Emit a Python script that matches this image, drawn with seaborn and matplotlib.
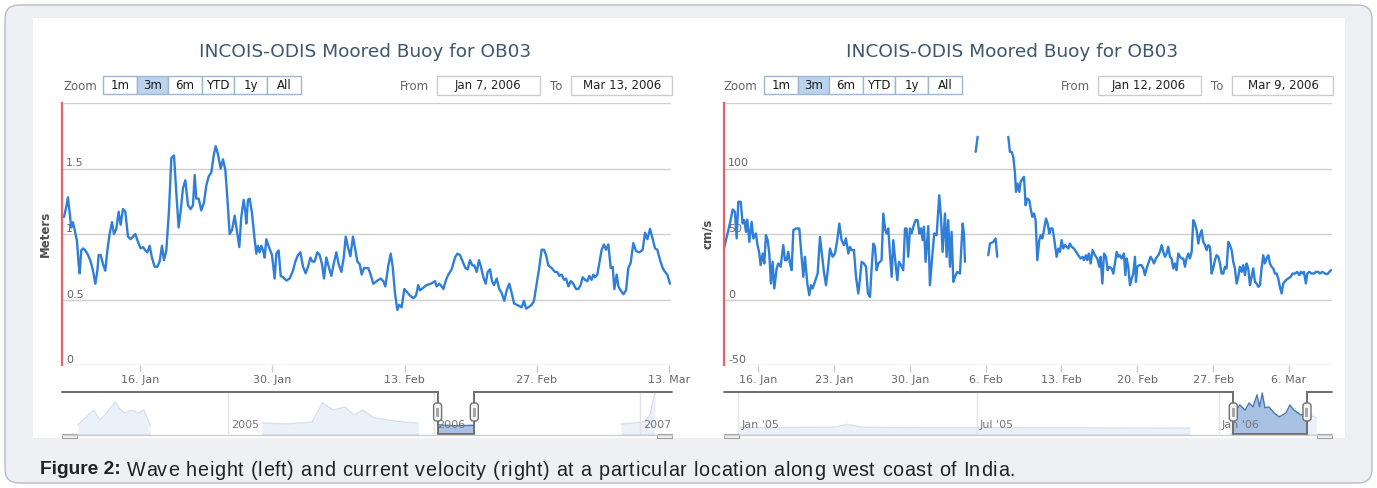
import numpy as np
import pandas as pd
import matplotlib
matplotlib.use("Agg")
import matplotlib.pyplot as plt
import matplotlib.dates as mdates
import seaborn as sns
from matplotlib.patches import Rectangle, FancyBboxPatch
from matplotlib.transforms import ScaledTranslation

# ---------------------------------------------------------------- data
chart_title = "INCOIS-ODIS Moored Buoy for OB03"
zoom_buttons = ["1m", "3m", "6m", "YTD", "1y", "All"]
selected_button = "3m"
caption_bold = "Figure 2:"
caption_text = " Wave height (left) and current velocity (right) at a particular location along west coast of India."

# wave height (m), days after 2006-01-07 00:00
wave_start = "2006-01-07"
wave_day = [0.96, 1.21, 1.38, 1.56, 1.73, 1.91, 2.09, 2.33, 2.51, 2.62,
            2.79, 2.97, 3.22, 3.50, 3.78, 4.03, 4.28, 4.49, 4.63, 4.84,
            5.09, 5.33, 5.55, 5.79, 6.04, 6.25, 6.50, 6.74, 6.95, 7.20,
            7.45, 7.73, 8.01, 8.26, 8.51, 8.79, 9.07, 9.32, 9.57, 9.78,
            10.02, 10.27, 10.55, 10.84, 11.08, 11.33, 11.54, 11.79, 12.07, 12.32,
            12.60, 12.85, 13.09, 13.30, 13.55, 13.80, 14.08, 14.36, 14.61, 14.79,
            14.96, 15.21, 15.49, 15.77, 16.02, 16.27, 16.55, 16.80, 17.01, 17.25,
            17.54, 17.78, 18.03, 18.24, 18.49, 18.74, 19.02, 19.26, 19.51, 19.72,
            19.97, 20.15, 20.25, 20.43, 20.61, 20.85, 21.13, 21.31, 21.49, 21.66,
            21.84, 22.02, 22.19, 22.37, 22.65, 22.97, 23.25, 23.43, 23.67, 23.89,
            24.13, 24.49, 24.84, 25.19, 25.44, 25.72, 25.97, 26.25, 26.53, 26.78,
            27.03, 27.24, 27.48, 27.77, 28.01, 28.26, 28.47, 28.72, 28.97, 29.25,
            29.49, 29.78, 30.02, 30.31, 30.56, 30.77, 31.01, 31.26, 31.54, 31.79,
            32.00, 32.25,
            32.46, 32.70, 33.16, 33.41, 33.69, 34.04, 34.47, 34.75, 34.96, 35.28,
            35.53, 35.74, 35.98, 36.23, 36.44, 36.69, 36.97, 37.22, 37.57, 37.92,
            38.21, 38.45, 38.63, 38.98, 39.33, 39.76, 40.22, 40.39, 40.68, 40.92,
            41.10, 41.38, 41.63, 41.98, 42.33, 42.58, 42.86, 43.14, 43.43, 43.67,
            43.92, 44.17, 44.38, 44.63, 44.87, 45.08, 45.33, 45.58, 45.79, 46.04,
            46.25, 46.46, 46.74, 47.02, 47.27, 47.55, 47.80, 48.08, 48.33, 48.58,
            48.86, 49.14, 49.39, 49.63, 49.85, 50.09, 50.45, 50.69, 50.97, 51.26,
            51.50, 51.75, 51.96, 52.21, 52.56, 52.91, 53.16, 53.37, 53.62, 53.87,
            54.08, 54.33, 54.57, 54.85, 55.14, 55.38, 55.63, 55.84, 56.09, 56.34,
            56.55, 56.79, 56.97, 57.15, 57.39, 57.61, 57.85, 58.10, 58.31, 58.56,
            58.81, 59.02, 59.19, 59.44, 59.62, 59.86, 60.15, 60.43, 60.67, 60.92,
            61.20, 61.49, 61.84, 62.19, 62.44, 62.69, 62.97, 63.25, 63.50, 63.74,
            64.03, 64.31, 64.56, 64.80, 65.08]
wave_m = [1.13, 1.21, 1.28, 1.16, 1.05, 1.09, 1.03, 0.95, 0.77, 0.70,
          0.875, 0.89, 0.875, 0.84, 0.79, 0.72, 0.62, 0.72, 0.84, 0.84,
          0.77, 0.72, 0.875, 1.00, 1.09, 1.00, 1.04, 1.17, 1.07, 1.19,
          1.17, 0.98, 0.96, 0.98, 1.00, 0.94, 0.89, 0.90, 0.875, 0.86,
          0.91, 0.82, 0.75, 0.75, 0.79, 0.91, 0.80, 0.875, 1.18, 1.58,
          1.60, 1.31, 1.05, 1.17, 1.35, 1.41, 1.22, 1.19, 1.22, 1.45,
          1.27, 1.27, 1.18, 1.24, 1.37, 1.44, 1.47, 1.60, 1.67, 1.61,
          1.50, 1.57, 1.49, 1.28, 1.00, 1.03, 1.14, 1.02, 0.90, 1.13,
          1.26, 1.17, 1.08, 1.26, 1.27, 1.16, 0.96, 0.85, 0.91, 0.86,
          0.91, 0.875, 0.82, 0.96, 0.90, 0.84, 0.66, 0.85, 0.875, 0.68,
          0.67, 0.645, 0.66, 0.72, 0.79, 0.84, 0.86, 0.75, 0.70, 0.75,
          0.82, 0.79, 0.79, 0.86, 0.84, 0.77, 0.66, 0.82, 0.75, 0.68,
          0.77, 0.86, 0.77, 0.71, 0.82, 0.98, 0.90, 0.83, 0.98, 0.875,
          0.79, 0.77,
          0.69, 0.74, 0.74, 0.69, 0.62, 0.64, 0.66, 0.64, 0.60, 0.76,
          0.85, 0.75, 0.55, 0.42, 0.46, 0.44, 0.58, 0.56, 0.53, 0.51,
          0.53, 0.61, 0.57, 0.59, 0.61, 0.62, 0.64, 0.60, 0.62, 0.60,
          0.58, 0.65, 0.69, 0.73, 0.82, 0.85, 0.84, 0.79, 0.74, 0.73,
          0.80, 0.76, 0.76, 0.71, 0.80, 0.75, 0.67, 0.62, 0.71, 0.73,
          0.64, 0.61, 0.66, 0.58, 0.55, 0.49, 0.57, 0.62, 0.55, 0.47,
          0.46, 0.45, 0.44, 0.49, 0.43, 0.44, 0.46, 0.49, 0.62, 0.75,
          0.88, 0.88, 0.84, 0.76, 0.74, 0.71, 0.71, 0.68, 0.69, 0.65,
          0.66, 0.60, 0.64, 0.62, 0.58, 0.58, 0.61, 0.67, 0.65, 0.64,
          0.68, 0.65, 0.69, 0.67, 0.69, 0.78, 0.88, 0.92, 0.88, 0.92,
          0.74, 0.75, 0.58, 0.69, 0.60, 0.57, 0.54, 0.57, 0.74, 0.78,
          0.93, 0.87, 0.86, 0.88, 1.01, 0.96, 1.04, 0.96, 0.89, 0.88,
          0.80, 0.74, 0.71, 0.69, 0.62]

# current velocity (cm/s), days after 2006-01-12 00:00, four unbroken runs
cur_start = "2006-01-12"
cur_day_a = [0.86, 1.04, 1.26, 1.47, 1.66, 1.87, 2.03, 2.18, 2.40, 2.58,
             2.73, 2.89, 3.01, 3.20, 3.41, 3.57, 3.81, 3.93, 4.12, 4.24,
             4.43, 4.58, 4.73, 4.89, 5.04, 5.19, 5.35, 5.50, 5.72, 5.87,
             6.09, 6.33, 6.49, 6.64, 6.79, 6.95, 7.10, 7.26, 7.50, 7.81,
             8.02, 8.18, 8.33, 8.55, 8.73, 8.88, 9.04, 9.19, 9.35, 9.50,
             9.72, 9.87, 10.08, 10.27, 10.42, 10.64, 10.88, 11.10, 11.31, 11.50,
             11.71, 11.93, 12.11, 12.33, 12.48, 12.64, 12.85, 13.04, 13.25, 13.41,
             13.56, 13.77, 13.96, 14.14, 14.33, 14.48, 14.64, 14.79, 14.94, 15.10,
             15.25, 15.40, 15.56, 15.74, 15.87, 16.02, 16.17, 16.33, 16.48, 16.66,
             16.85, 17.00, 17.19, 17.40, 17.56, 17.71, 17.86, 18.02, 18.17, 18.33,
             18.54, 18.73, 18.88, 19.03, 19.19, 19.31, 19.46, 19.71, 19.86, 20.11,
             20.26, 20.48, 20.72, 20.88, 21.03, 21.25, 21.40, 21.55, 21.71, 21.86,
             22.02, 22.17, 22.38, 22.63, 22.88, 23.00, 23.09]
cur_cms_a = [38.9, 45.3, 52.9, 60.6, 68.7, 66.9, 46.6, 74.6, 74.6, 58.0,
             60.6, 51.7, 61.0, 44.0, 59.3, 46.6, 50.4, 42.7, 35.1, 26.2,
             35.1, 27.5, 49.1, 45.3, 35.1, 12.2, 28.8, 8.4, 23.7, 27.5,
             25.0, 41.5, 30.0, 30.0, 36.4, 27.5, 22.4, 52.9, 54.2, 54.2,
             32.6, 17.3, 32.6, 12.2, 3.3, 10.9, 8.4, 12.2, 16.0, 19.8,
             47.8, 36.4, 21.1, 10.9, 21.1, 38.9, 32.6, 35.1, 45.3, 58.0,
             45.3, 41.5, 46.6, 35.1, 40.2, 37.7, 37.7, 17.3, 4.6, 16.0,
             28.8, 27.5, 25.0, 4.6, 2.0, 23.7, 42.7, 40.2, 22.4, 27.5,
             28.8, 30.0, 65.6, 52.9, 50.4, 54.2, 35.1, 17.3, 45.3, 30.0,
             14.8, 28.8, 26.2, 22.4, 54.2, 54.2, 32.6, 54.2, 50.4, 55.5,
             60.6, 60.6, 50.4, 54.2, 45.3, 55.5, 28.8, 56.0, 10.9, 36.4,
             50.4, 49.1, 79.6, 63.1, 36.4, 65.6, 32.6, 60.6, 25.0, 51.7,
             13.5, 17.3, 21.1, 19.8, 58.0, 50.4, 28.8]
cur_day_b = [24.08, 24.26]
cur_cms_b = [112.7, 124.2]
cur_day_c = [25.24, 25.40, 25.71, 25.92, 26.07]
cur_cms_c = [33.8, 42.7, 44.0, 46.6, 32.6]
cur_day_d = [27.09, 27.24,
             27.40, 27.55, 27.71, 27.80, 27.95, 28.11, 28.23, 28.42, 28.54, 28.69,
             28.85, 29.03, 29.15, 29.31, 29.46, 29.61, 29.77, 29.95, 30.08, 30.23,
             30.38, 30.57, 30.72, 30.88, 31.00, 31.18, 31.34, 31.55, 31.71, 31.86,
             32.01, 32.17, 32.32, 32.48, 32.63, 32.78, 32.94, 33.15, 33.34, 33.55,
             33.77, 33.95, 34.07, 34.26, 34.38, 34.53, 34.69, 34.87, 35.09, 35.30,
             35.49, 35.61, 35.77, 35.92, 36.10, 36.26, 36.41, 36.63, 36.78, 36.93,
             37.09, 37.24, 37.39, 37.55, 37.76, 37.89, 38.01, 38.16, 38.32, 38.47,
             38.62, 38.78, 38.87, 38.99, 39.18, 39.39, 39.55, 39.70, 39.85, 40.01,
             40.22, 40.41, 40.53, 40.71, 40.93, 41.08, 41.24, 41.39, 41.55, 41.70,
             41.85, 42.01, 42.16, 42.31, 42.47, 42.62, 42.78, 42.93, 43.08, 43.24,
             43.39, 43.54, 43.70, 43.85, 44.01, 44.16, 44.31, 44.47, 44.62, 44.77,
             44.93, 45.08, 45.24, 45.39, 45.54, 45.70, 45.85, 46.00, 46.16, 46.31,
             46.47, 46.62, 46.77, 46.93, 47.08, 47.23, 47.39, 47.54, 47.70, 47.85,
             48.00, 48.16, 48.31, 48.46, 48.62, 48.77, 48.93, 49.08, 49.23, 49.39,
             49.54, 49.69, 49.85, 50.00, 50.16, 50.31, 50.46, 50.62, 50.77, 50.92,
             51.08, 51.23, 51.39, 51.54, 51.69, 51.85, 52.00, 52.15, 52.31, 52.46,
             52.71, 52.92, 53.14, 53.32, 53.54, 53.75, 53.94, 54.09, 54.25, 54.37,
             54.55, 54.68, 54.86, 55.08, 55.29, 55.48, 55.69, 55.84, 56.06, 56.31,
             56.52, 56.71, 56.86]
cur_cms_d = [124.2, 112.7,
             112.7, 108.9, 96.2, 82.2, 88.5, 82.2, 89.8, 92.4, 93.6, 72.0,
             77.1, 75.8, 69.5, 63.1, 65.6, 60.6, 30.0, 45.3, 49.1, 46.6,
             52.9, 61.8, 58.0, 50.4, 54.2, 54.2, 45.3, 32.6, 38.9, 36.4,
             45.3, 38.9, 41.5, 40.2, 38.9, 42.7, 40.2, 38.9, 36.4, 33.8,
             31.3, 32.6, 30.0, 33.8, 30.0, 35.1, 27.5, 37.7, 33.8, 31.3,
             25.0, 32.6, 12.2, 35.1, 32.6, 22.4, 25.0, 23.7, 19.8, 27.5,
             36.4, 32.6, 33.8, 31.3, 35.1, 18.6, 31.3, 25.0, 10.9, 15.7,
             19.8, 32.6, 13.5, 25.0, 26.2, 26.2, 23.7, 18.6, 23.7, 27.5,
             32.6, 30.0, 27.5, 31.3, 33.8, 36.4, 41.5, 36.4, 32.6, 35.1,
             40.2, 32.6, 31.3, 23.7, 27.5, 22.4, 35.1, 32.6, 31.3, 31.3,
             25.0, 31.3, 35.1, 31.3, 36.4, 60.6, 58.0, 52.9, 42.7, 49.1,
             52.9, 44.0, 41.5, 37.7, 41.5, 40.2, 19.8, 23.7, 30.0, 33.8,
             32.6, 27.5, 19.8, 19.8, 25.0, 23.7, 44.0, 41.5, 37.7, 28.8,
             23.7, 12.2, 17.3, 25.0, 21.1, 26.2, 18.6, 27.5, 23.7, 10.9,
             17.3, 23.7, 13.5, 12.2, 9.7, 10.9, 23.7, 33.8, 27.5, 31.3,
             33.8, 27.5, 25.0, 23.7, 19.8, 19.8, 16.0, 9.7, 4.6, 12.2,
             14.8, 16.0, 17.3, 19.8, 19.8, 21.1, 18.6, 21.1, 19.8, 21.1,
             12.2, 19.8, 21.1, 19.8, 19.8, 21.1, 21.1, 19.8, 21.1, 19.8,
             19.3, 21.1, 22.4]

# navigator overview series (whole record)
nav_wave_date = ["2004-04-10", "2004-05-08", "2004-05-19", "2004-05-31", "2004-06-15",
                 "2004-06-22", "2004-07-02", "2004-07-15", "2004-07-25", "2004-08-05",
                 "2004-08-16",
                 "2005-03-02", "2005-04-15", "2005-05-30", "2005-06-17", "2005-07-06",
                 "2005-07-27", "2005-08-12", "2005-08-27", "2005-09-17", "2005-10-10",
                 "2005-11-07", "2005-12-04",
                 "2006-01-07", "2006-02-10", "2006-03-13",
                 "2006-11-28", "2006-12-20", "2007-01-08", "2007-01-18", "2007-01-27"]
nav_wave_val = [0.49, 1.31, 0.77, 1.15, 1.75, 1.42, 1.15, 1.31, 1.15, 1.31, 0.49,
                0.60, 0.55, 0.66, 1.70, 1.31, 1.48, 1.04, 1.31, 0.88, 0.77, 0.66, 0.60,
                0.50, 0.45, 0.48,
                0.55, 0.60, 0.66, 1.04, 2.30]
nav_wave_run = [1] * 11 + [2] * 12 + [3] * 3 + [4] * 5

nav_cur_date = ["2005-01-02", "2005-03-15", "2005-03-25", "2005-04-05", "2005-06-01",
                "2005-09-01", "2005-12-10",
                "2006-01-09", "2006-01-13", "2006-01-17", "2006-01-21", "2006-01-24",
                "2006-01-27", "2006-01-30", "2006-02-01", "2006-02-03", "2006-02-05",
                "2006-02-08", "2006-02-12", "2006-02-16", "2006-02-21", "2006-02-24",
                "2006-02-27", "2006-03-04", "2006-03-09", "2006-03-15", "2006-03-16"]
nav_cur_val = [20, 21, 30, 21, 19, 19, 18,
               60, 68, 90, 74, 96, 84, 121, 84, 127, 81, 84, 65, 53, 65, 90, 74, 60, 60, 53, 50]
nav_cur_run = [1] * 7 + [2] * 20

# ---------------------------------------------------------------- figure
W, H = 1377, 488
sns.set_theme(style="white")
plt.rcParams["font.family"] = ["DejaVu Sans"]

BLUE = "#2f7ed8"
GRID = "#cfcfcf"
LABEL = "#666666"

fig = plt.figure(figsize=(W / 100, H / 100), dpi=100)
fig.patch.set_facecolor("white")
renderer = fig.canvas.get_renderer()


def px_axes(x0, y0, x1, y1, **kw):
    return fig.add_axes([x0 / W, 1 - y1 / H, (x1 - x0) / W, (y1 - y0) / H], **kw)


bg = px_axes(0, 0, W, H, zorder=-5)
bg.set_xlim(0, W); bg.set_ylim(H, 0); bg.axis("off")
fg = px_axes(0, 0, W, H, zorder=20)
fg.set_xlim(0, W); fg.set_ylim(H, 0); fg.axis("off"); fg.patch.set_alpha(0)

# page frame + white chart image
bg.add_patch(FancyBboxPatch((5, 5), W - 10, H - 10, boxstyle="round,pad=0,rounding_size=14",
                            fc="#eef0f3", ec="#b8bcc3", lw=1.0))
bg.add_patch(Rectangle((33, 18), 1312, 420, fc="white", ec="none"))


def to_dates(start, days):
    return pd.Timestamp(start) + pd.to_timedelta(np.asarray(days), unit="D")


def draw_controls(off, from_txt, to_txt):
    kw = dict(fontsize=8.5, va="center")
    fg.text(63 + off, 86, "Zoom", color=LABEL, ha="left", **kw)
    edges = [103, 137, 168, 202, 234, 267, 301]
    for i, lab in enumerate(zoom_buttons):
        x0, x1 = edges[i] + off, edges[i + 1] + off
        fc = "#bcd3ef" if lab == selected_button else "white"
        fg.add_patch(Rectangle((x0, 76), x1 - x0, 18, fc=fc, ec="#9fb6d0", lw=1.0))
        fg.text((x0 + x1) / 2, 85.5, lab, color="#1a1a1a", ha="center", **kw)
    fg.text(400 + off, 86, "From", color=LABEL, ha="left", **kw)
    fg.add_patch(Rectangle((437 + off, 76), 103, 19, fc="white", ec="#cccccc", lw=1.0))
    fg.text(488 + off, 86, from_txt, color="#222222", ha="center", **kw)
    fg.text(550 + off, 86, "To", color=LABEL, ha="left", **kw)
    fg.add_patch(Rectangle((571 + off, 76), 101, 19, fc="white", ec="#cccccc", lw=1.0))
    fg.text(622 + off, 86, to_txt, color="#222222", ha="center", **kw)


def draw_main(x0, x1, df, ycol, units, xlim, ylim, ygrid, ylabels, xticks, ylabel, title_x):
    ax = px_axes(x0, 103, x1, 365)
    ax.set_facecolor("none")
    sns.lineplot(data=df, x="time", y=ycol, units=units, estimator=None, ax=ax,
                 color=BLUE, lw=1.7, sort=False, zorder=3)
    ax.set_xlim(pd.Timestamp(xlim[0]), pd.Timestamp(xlim[1]))
    ax.set_ylim(*ylim)
    ax.set_yticks(ygrid)
    ax.set_yticklabels(ylabels)
    ax.grid(axis="y", color=GRID, lw=1.0)
    ax.grid(axis="x", visible=False)
    ax.set_axisbelow(True)
    for s in ["top", "right", "bottom"]:
        ax.spines[s].set_visible(False)
    ax.spines["left"].set_color("#e3646a")
    ax.spines["left"].set_linewidth(1.6)
    ax.spines["left"].set_zorder(4)
    ax.tick_params(axis="y", length=0, pad=-3, labelsize=8, labelcolor=LABEL)
    for lab in ax.get_yticklabels():
        lab.set_horizontalalignment("left")
        lab.set_verticalalignment("bottom")
    ax.set_xticks(pd.to_datetime(xticks))
    ax.xaxis.set_major_formatter(mdates.DateFormatter("%-d. %b"))
    ax.tick_params(axis="x", length=5, width=1, color="#c0d0e0", labelsize=8,
                   labelcolor=LABEL, pad=2, bottom=True)
    ax.set_xlabel("")
    ax.set_ylabel(ylabel, fontsize=8.5, fontweight="bold", color="#4d4d4d")
    ax.yaxis.set_label_coords(-0.016, 0.5)
    ax.set_title(chart_title, fontsize=13.3, color="#3e576f", pad=33, x=title_x)
    return ax


def draw_nav(x0, x1, dates, vals, runs, xlim, ylim, yr_ticks, yr_fmt, sel):
    nav = px_axes(x0, 392, x1, 434)
    nav.set_facecolor("none")
    d = pd.DataFrame({"date": pd.to_datetime(dates), "v": vals, "run": runs})
    for r, g in d.groupby("run"):
        nav.fill_between(g["date"], g["v"], 0, color="#a9c2e4", lw=0, zorder=2)
    sns.lineplot(data=d, x="date", y="v", units="run", estimator=None, ax=nav,
                 color="#4a78b5", lw=1.0, zorder=3)
    nav.set_xlim(pd.Timestamp(xlim[0]), pd.Timestamp(xlim[1]))
    nav.set_ylim(*ylim)
    s0, s1 = pd.Timestamp(sel[0]), pd.Timestamp(sel[1])
    nav.axvspan(pd.Timestamp(xlim[0]), s0, color="white", alpha=0.78, lw=0, zorder=4)
    nav.axvspan(s1, pd.Timestamp(xlim[1]), color="white", alpha=0.78, lw=0, zorder=4)
    for s in nav.spines.values():
        s.set_visible(False)
    nav.set_yticks([])
    nav.set_xticks(pd.to_datetime(yr_ticks))
    nav.xaxis.set_major_formatter(mdates.DateFormatter(yr_fmt))
    nav.grid(axis="x", color="#e4e4e4", lw=1.0)
    nav.grid(axis="y", visible=False)
    nav.xaxis.set_zorder(6)
    nav.tick_params(axis="x", length=0, pad=-10, labelsize=8, labelcolor="#777777")
    for lab in nav.get_xticklabels():
        lab.set_horizontalalignment("left")
        lab.set_transform(lab.get_transform() + ScaledTranslation(3 / 100, 0, fig.dpi_scale_trans))
    nav.set_xlabel(""); nav.set_ylabel("")
    # outline around the selected range
    xa = nav.transData.transform([(mdates.date2num(s0), 0), (mdates.date2num(s1), 0)])[:, 0]
    ha, hb = xa[0], xa[1]
    fg.plot([x0, ha, ha, hb, hb, x1], [392, 392, 434, 434, 392, 392], color="#6e6e6e", lw=1.4,
            solid_joinstyle="miter")
    # scrollbar remnants
    fg.plot([x0, x1], [434.5, 434.5], color="#cfcfcf", lw=1.0)
    fg.add_patch(Rectangle((x0, 434), 15, 4, fc="#f2f2f2", ec="#a0a0a0", lw=0.8))
    fg.add_patch(Rectangle((x1 - 15, 434), 15, 4, fc="#f2f2f2", ec="#a0a0a0", lw=0.8))
    # handles
    for hx in (ha, hb):
        fg.add_patch(FancyBboxPatch((hx - 4, 403), 8, 18, boxstyle="round,pad=0,rounding_size=3",
                                    fc="#f6f6f6", ec="#707070", lw=1.0, zorder=6))
        fg.add_patch(Rectangle((hx - 1.5, 407.5), 3, 9, fc="#a8a8a8", ec="none", zorder=7))
    return nav


# left chart: wave height
df_w = pd.DataFrame({"time": to_dates(wave_start, wave_day), "height": wave_m, "run": 1})
draw_controls(0, "Jan 7, 2006", "Mar 13, 2006")
draw_main(62, 671, df_w, "height", "run",
          ("2006-01-07 18:00", "2006-03-13 04:30"), (0, 2),
          [0, 0.5, 1, 1.5, 2], ["0", "0.5", "1", "1.5", ""],
          ["2006-01-16", "2006-01-30", "2006-02-13", "2006-02-27", "2006-03-13"],
          "Meters", 0.4975)
draw_nav(62, 672, nav_wave_date, nav_wave_val, nav_wave_run,
         ("2004-03-13", "2007-02-26"), (0, 2.3),
         ["2005-01-01", "2006-01-01", "2007-01-01"], "%Y",
         ("2006-01-07", "2006-03-13"))

# right chart: current velocity
cur_days = cur_day_a + cur_day_b + cur_day_c + cur_day_d
cur_vals = cur_cms_a + cur_cms_b + cur_cms_c + cur_cms_d
cur_runs = [1] * len(cur_day_a) + [2] * len(cur_day_b) + [3] * len(cur_day_c) + [4] * len(cur_day_d)
df_c = pd.DataFrame({"time": to_dates(cur_start, cur_days), "speed": cur_vals, "run": cur_runs})
draw_controls(661, "Jan 12, 2006", "Mar 9, 2006")
draw_main(724, 1332, df_c, "speed", "run",
          ("2006-01-12 20:40", "2006-03-09 23:00"), (-50, 150),
          [-50, 0, 50, 100, 150], ["-50", "0", "50", "100", ""],
          ["2006-01-16", "2006-01-23", "2006-01-30", "2006-02-06", "2006-02-13",
           "2006-02-20", "2006-02-27", "2006-03-06"],
          "cm/s", 0.474)
draw_nav(724, 1332, nav_cur_date, nav_cur_val, nav_cur_run,
         ("2004-12-21", "2006-03-28"), (0, 130),
         ["2005-01-01", "2005-07-01", "2006-01-01"], "%b '%y",
         ("2006-01-12", "2006-03-09"))

# caption: bold lead-in, regular text lightly tracked to the printed width
bold_kw = dict(fontsize=13.8, color="#222222", va="center", family=["Liberation Sans", "DejaVu Sans"])
reg_kw = dict(fontsize=14.2, color="#222222", va="center", family=["Liberation Sans", "DejaVu Sans"])
t1 = fg.text(40, 470, caption_bold, fontweight="bold", ha="left", **bold_kw)
x_start = t1.get_window_extent(renderer).x1


def text_width(s):
    p = fg.text(0, 0, s + "|", **reg_kw)
    w = p.get_window_extent(renderer).width
    p.remove()
    return w


bar_w = text_width("")
natural = text_width(caption_text) - bar_w
extra = max(0.0, 1015 - x_start - natural)
ch_extra = extra / (len(caption_text) - 1)
for i, ch in enumerate(caption_text):
    if ch == " ":
        continue
    xi = x_start + (text_width(caption_text[:i]) - bar_w) + i * ch_extra
    fg.text(xi, 470, ch, ha="left", **reg_kw)

fig.savefig("out.png", dpi=100, facecolor=fig.get_facecolor())
